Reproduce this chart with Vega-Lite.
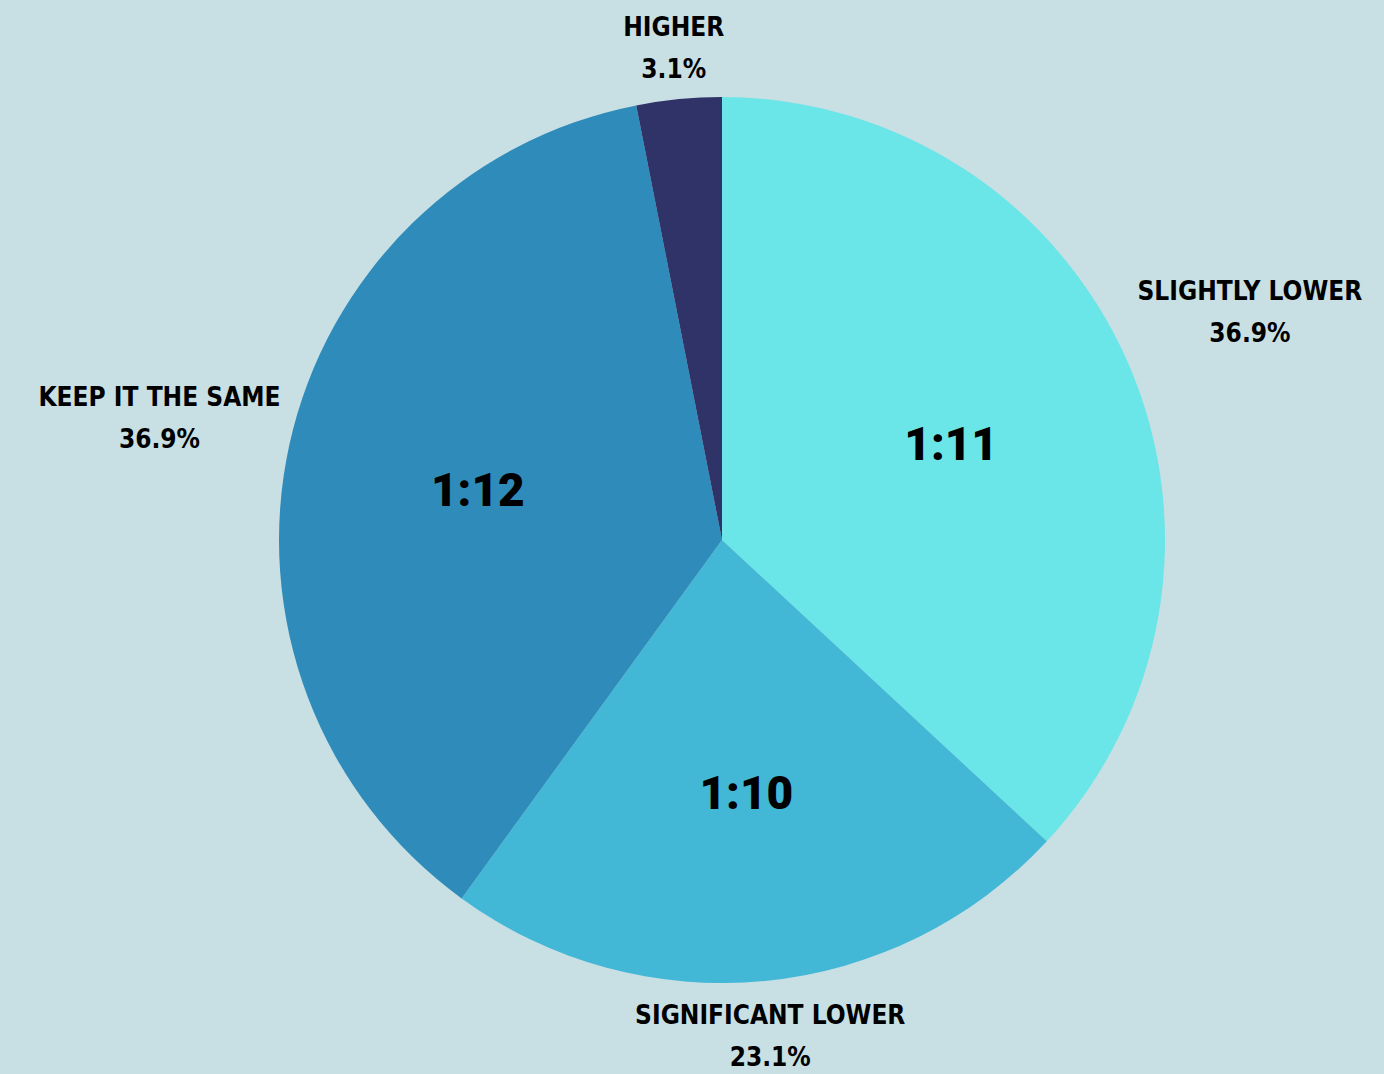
{
  "$schema": "https://vega.github.io/schema/vega-lite/v6.json",
  "width": 1324,
  "height": 1068,
  "autosize": {"type": "none"},
  "padding": {"left": 60, "right": 0, "top": 6, "bottom": 0},
  "background": "#c8dfe3",
  "config": {"view": {"stroke": null}},
  "data": {
    "values": [
      {"name": "SLIGHTLY LOWER", "value": 36.9, "ratio": "1:11", "rank": 1},
      {"name": "SIGNIFICANT LOWER", "value": 23.1, "ratio": "1:10", "rank": 2},
      {"name": "KEEP IT THE SAME", "value": 36.9, "ratio": "1:12", "rank": 3},
      {"name": "HIGHER", "value": 3.1, "ratio": "", "rank": 4}
    ]
  },
  "transform": [
    {"calculate": "datum.name + '\\n' + datum.value + '%'", "as": "label"},
    {"calculate": "datum.name === 'SLIGHTLY LOWER' || datum.name === 'KEEP IT THE SAME'", "as": "side"}
  ],
  "encoding": {
    "theta": {"field": "value", "type": "quantitative", "stack": true},
    "order": {"field": "rank", "type": "quantitative"}
  },
  "layer": [
    {
      "mark": {"type": "arc", "outerRadius": 443},
      "encoding": {
        "color": {
          "field": "name",
          "type": "nominal",
          "scale": {
            "domain": ["SLIGHTLY LOWER", "SIGNIFICANT LOWER", "KEEP IT THE SAME", "HIGHER"],
            "range": ["#6ae5e8", "#42b7d6", "#2e8bba", "#2f3368"]
          },
          "legend": null
        }
      }
    },
    {
      "mark": {"type": "text", "radius": 250, "dy": 6, "font": "Roboto", "fontWeight": 900, "fontSize": 46, "color": "#000000", "letterSpacing": -4},
      "encoding": {"text": {"field": "ratio", "type": "nominal"}}
    },
    {
      "mark": {"type": "text", "radius": 576, "dy": -18, "font": "DejaVu Sans Condensed, Roboto Condensed, Roboto, sans-serif", "fontWeight": "bold", "fontSize": 26, "lineBreak": "\n", "lineHeight": 42, "color": "#000000", "baseline": "middle"},
      "encoding": {
        "text": {
          "condition": {"test": "datum.side", "field": "label"},
          "value": ""
        }
      }
    },
    {
      "mark": {"type": "text", "radius": 496, "dy": -18, "font": "DejaVu Sans Condensed, Roboto Condensed, Roboto, sans-serif", "fontWeight": "bold", "fontSize": 26, "lineBreak": "\n", "lineHeight": 42, "color": "#000000", "baseline": "middle"},
      "encoding": {
        "text": {
          "condition": {"test": "!datum.side", "field": "label"},
          "value": ""
        }
      }
    }
  ]
}
